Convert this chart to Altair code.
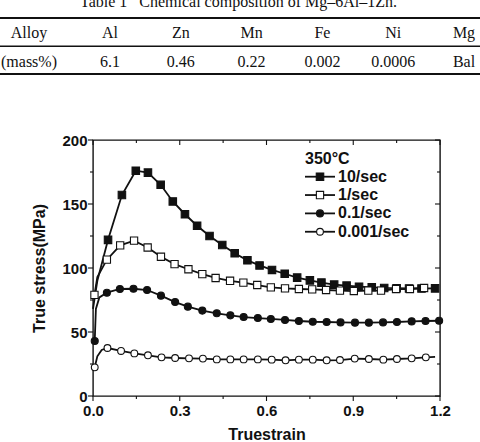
import altair as alt
import pandas as pd

# ---- Table 1: composition of the alloy ----
table_title = "Table 1\u00a0\u00a0\u00a0Chemical composition of Mg–6Al–1Zn."
table_header = ["Alloy", "Al", "Zn", "Mn", "Fe", "Ni", "Mg"]
table_row = ["(mass%)", "6.1", "0.46", "0.22", "0.002", "0.0006", "Bal"]

# ---- flow curves at 350 °C ----
legend_title = "350°C"
series_names = ["10/sec", "1/sec", "0.1/sec", "0.001/sec"]

strain_10 = [0.052, 0.10, 0.148, 0.19, 0.234, 0.276, 0.318, 0.36, 0.403, 0.447,
             0.49, 0.534, 0.576, 0.619, 0.663, 0.706, 0.75, 0.79, 0.834, 0.877,
             0.92, 0.964, 1.007, 1.05, 1.093, 1.136, 1.183]
stress_10 = [122, 157, 176, 174.5, 165, 152, 142, 133, 125, 118,
             111.5, 106, 102, 98.5, 95.5, 92.5, 90.3, 88.6, 87, 86.2,
             85.4, 84.9, 84.4, 84.2, 84, 84, 84.1]

strain_1 = [0.005, 0.048, 0.094, 0.142, 0.189, 0.235, 0.282, 0.33, 0.378, 0.424,
            0.474, 0.52, 0.568, 0.615, 0.664, 0.712, 0.758, 0.806, 0.854, 0.902,
            0.952, 0.996, 1.048, 1.096, 1.145]
stress_1 = [79, 106.5, 117.7, 121.4, 116, 108.8, 103, 99, 95.2, 92.2,
            90, 88.6, 86.7, 84.9, 84.1, 83.6, 83.3, 82.8, 82.3, 82,
            82.3, 82.3, 83.6, 83.6, 84.4]

strain_01 = [0.006, 0.048, 0.093, 0.14, 0.187, 0.235, 0.284, 0.328, 0.378, 0.428,
             0.475, 0.521, 0.57, 0.615, 0.664, 0.712, 0.76, 0.808, 0.856, 0.906,
             0.954, 1.003, 1.051, 1.102, 1.15, 1.197]
stress_01 = [43, 80.7, 83.6, 83.8, 82.8, 78.4, 73.4, 69.8, 66.7, 64.6,
             63, 61.7, 60.9, 60.2, 59.4, 58.6, 58, 57.8, 57.5, 57.3,
             57.3, 57.5, 57.8, 58.3, 58.6, 58.8]

strain_0001 = [0.006, 0.05, 0.097, 0.143, 0.19, 0.237, 0.284, 0.332, 0.38, 0.428,
               0.475, 0.521, 0.57, 0.618, 0.666, 0.712, 0.76, 0.808, 0.854, 0.905,
               0.954, 1.004, 1.051, 1.102, 1.151]
stress_0001 = [22.4, 37.5, 35.2, 33.3, 31.8, 30.2, 29.7, 29.4, 29.2, 28.6,
               28.6, 28.6, 28.6, 28.4, 27.9, 28.4, 28.4, 27.9, 28.1, 29.2,
               28.9, 28.4, 28.9, 29.4, 30.2]

# unmarked readings of the curves (initial rise / tail)
curve_strain_10, curve_stress_10 = [0.0, 0.015], [68, 90]
curve_strain_1, curve_stress_1 = [0.015], [93]
curve_strain_01, curve_stress_01 = [0.01, 0.022], [68, 77]
curve_strain_0001, curve_stress_0001 = [0.015, 0.03, 1.183], [31, 36, 30.5]

x_major = [0.0, 0.3, 0.6, 0.9, 1.2]
x_minor = [0.15, 0.45, 0.75, 1.05]
y_major = [0, 50, 100, 150, 200]
y_minor = [25, 75, 125, 175]

# ---- tables for the library ----
def frame(name, xs, ys):
    return pd.DataFrame({"series": name, "strain": xs, "stress": ys})

markers = pd.concat([
    frame(series_names[0], strain_10, stress_10),
    frame(series_names[1], strain_1, stress_1),
    frame(series_names[2], strain_01, stress_01),
    frame(series_names[3], strain_0001, stress_0001),
], ignore_index=True)
curves = pd.concat([
    markers,
    frame(series_names[0], curve_strain_10, curve_stress_10),
    frame(series_names[1], curve_strain_1, curve_stress_1),
    frame(series_names[2], curve_strain_01, curve_stress_01),
    frame(series_names[3], curve_strain_0001, curve_stress_0001),
], ignore_index=True).sort_values(["series", "strain"])

W, H = 347, 256
SANS = "Liberation Sans"
SERIF = "Liberation Serif"
INK = "#111111"

x_scale = alt.Scale(domain=[0, 1.2], nice=False, zero=False)
y_scale = alt.Scale(domain=[0, 200], nice=False)
shape_scale = alt.Scale(domain=series_names, range=["square", "square", "circle", "circle"])
fill_scale = alt.Scale(domain=series_names, range=[INK, "white", INK, "white"])
size_scale = alt.Scale(domain=series_names, range=[56, 46, 64, 38])

x_axis = alt.Axis(values=x_major, format=".1f", ticks=False, domain=False, grid=False,
                  labelFont=SANS, labelFontSize=15, labelFontWeight="bold", labelColor=INK,
                  labelPadding=7, labelFlush=False, title="Truestrain", titleFont=SANS,
                  titleFontSize=16, titleFontWeight="bold", titleColor=INK, titlePadding=8)
y_axis = alt.Axis(values=y_major, format="d", ticks=False, domain=False, grid=False,
                  labelFont=SANS, labelFontSize=15, labelFontWeight="bold", labelColor=INK,
                  labelPadding=6, labelFlush=False, title="True stress(MPa)", titleFont=SANS,
                  titleFontSize=16, titleFontWeight="bold", titleColor=INK, titlePadding=14)

lines = alt.Chart(curves).mark_line(color=INK, strokeWidth=1.8).encode(
    x=alt.X("strain:Q", scale=x_scale, axis=x_axis),
    y=alt.Y("stress:Q", scale=y_scale, axis=y_axis),
    detail="series:N",
)

points = alt.Chart(markers).mark_point(filled=True, stroke=INK, strokeWidth=1.1, opacity=1).encode(
    x=alt.X("strain:Q", scale=x_scale),
    y=alt.Y("stress:Q", scale=y_scale),
    shape=alt.Shape("series:N", scale=shape_scale, legend=None),
    fill=alt.Fill("series:N", scale=fill_scale, legend=None),
    size=alt.Size("series:N", scale=size_scale, legend=None),
)

# ---- tick marks: outward on left/bottom, inward on right/top ----
def ticks_y(values, x0, x1):
    return alt.Chart(pd.DataFrame({"v": values})).mark_rule(color=INK, strokeWidth=1.1).encode(
        y=alt.Y("v:Q", scale=y_scale), x=alt.value(x0), x2=alt.value(x1))

def ticks_x(values, y0, y1):
    return alt.Chart(pd.DataFrame({"v": values})).mark_rule(color=INK, strokeWidth=1.1).encode(
        x=alt.X("v:Q", scale=x_scale), y=alt.value(y0), y2=alt.value(y1))

tick_layers = [
    ticks_y(y_major, -5, 0), ticks_y(y_minor, -3, 0),
    ticks_y(y_major, W - 5, W), ticks_y(y_minor, W - 3, W),
    ticks_x(x_major, H, H + 5), ticks_x(x_minor, H, H + 3),
    ticks_x(x_major, 0, 5), ticks_x(x_minor, 0, 3),
]

# ---- legend block ----
one = pd.DataFrame({"k": [0]})
legend_layers = [
    alt.Chart(one).mark_text(font=SANS, fontSize=16, fontWeight="bold", color=INK,
                             align="left", baseline="middle").encode(
        x=alt.value(212), y=alt.value(19), text=alt.value(legend_title))
]
for i, name in enumerate(series_names):
    yy = 36.7 + 18.35 * i
    row = pd.DataFrame({"series": [name]})
    legend_layers += [
        alt.Chart(row).mark_rule(color=INK, strokeWidth=1.8).encode(
            x=alt.value(212), x2=alt.value(242), y=alt.value(yy)),
        alt.Chart(row).mark_point(filled=True, stroke=INK, strokeWidth=1.1, opacity=1).encode(
            x=alt.value(227), y=alt.value(yy),
            shape=alt.Shape("series:N", scale=shape_scale, legend=None),
            fill=alt.Fill("series:N", scale=fill_scale, legend=None),
            size=alt.Size("series:N", scale=size_scale, legend=None)),
        alt.Chart(row).mark_text(font=SANS, fontSize=16, fontWeight="bold", color=INK,
                                 align="left", baseline="middle").encode(
            x=alt.value(245), y=alt.value(yy), text="series:N"),
    ]

# ---- composition table above the plot ----
table_layers = [
    alt.Chart(one).mark_text(font=SERIF, fontSize=16, color=INK, align="center",
                             baseline="alphabetic").encode(
        x=alt.value(145.5), y=alt.value(-133.5), text=alt.value(table_title))
]
for ry, width in [(-122, 2.2), (-93.7, 1.6), (-66, 2.0)]:
    table_layers.append(alt.Chart(one).mark_rule(color=INK, strokeWidth=width).encode(
        x=alt.value(-93), x2=alt.value(387), y=alt.value(ry)))
for j, (head, val) in enumerate(zip(table_header, table_row)):
    cx = -64 if j == 0 else 17 + 70.8 * (j - 1)
    for ty, txt in [(-101.7, head), (-73.3, val)]:
        table_layers.append(alt.Chart(one).mark_text(font=SERIF, fontSize=16, color=INK,
                                                     align="center", baseline="alphabetic").encode(
            x=alt.value(cx), y=alt.value(ty), text=alt.value(txt)))

chart = alt.layer(lines, points, *tick_layers, *legend_layers, *table_layers).properties(
    width=W, height=H,
    autosize=alt.AutoSizeParams(type="none"),
    padding={"left": 93, "top": 140, "right": 40, "bottom": 46},
    background="white",
).configure_view(stroke=INK, strokeWidth=1.4)

chart.save("out.html", embed_options={"renderer": "svg", "actions": False})
